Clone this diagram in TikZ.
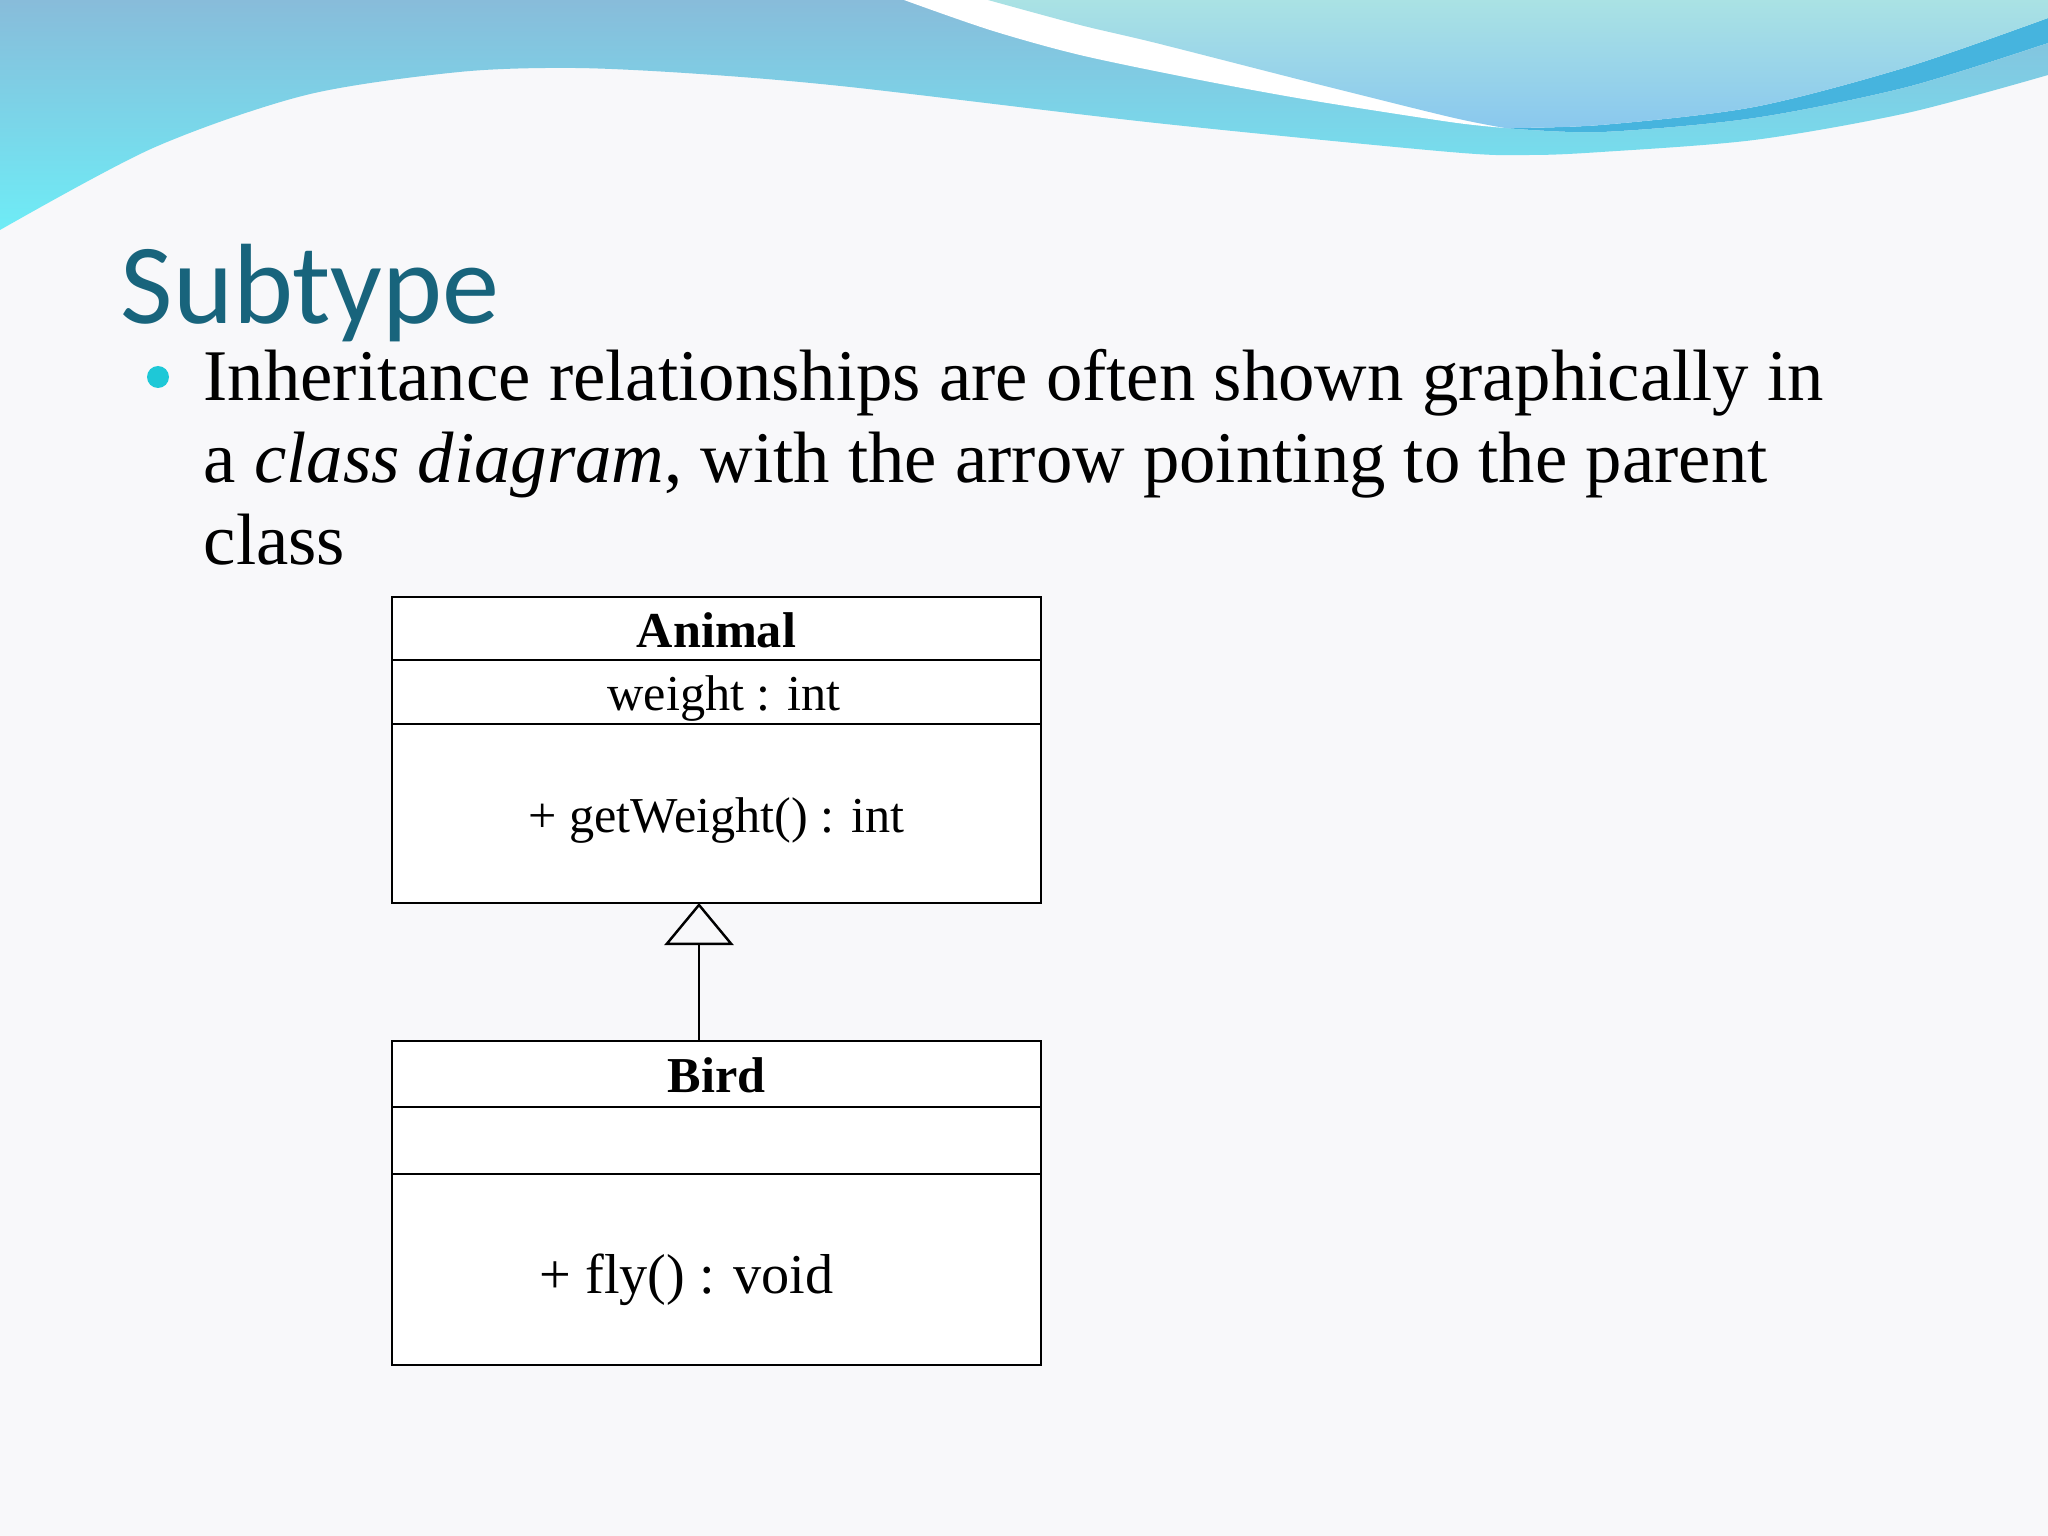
\documentclass[tikz,border=0pt]{standalone}
\usepackage{fontspec}
\setmainfont{Liberation Serif}
\newfontfamily\headfont{Carlito}
\usetikzlibrary{positioning,arrows.meta}
\definecolor{slidebg}{RGB}{248,248,250}
\definecolor{titleteal}{RGB}{24,100,124}
\definecolor{bulletcyan}{RGB}{30,200,215}
\definecolor{bandtop}{RGB}{136,188,218}
\definecolor{bandbottom}{RGB}{110,236,246}
\definecolor{aquatop}{RGB}{170,226,228}
\definecolor{aquabottom}{RGB}{138,200,238}
\definecolor{ribbonblue}{RGB}{70,180,222}
\tikzset{
  umlpart/.style={draw, fill=white, line width=0.7pt, minimum width=6.49cm,
    inner sep=0pt, outer sep=0pt, text height=10.8pt, text depth=0pt,
    font=\fontsize{14.3}{17}\selectfont},
  umlname/.style={umlpart, font=\fontsize{14.3}{17}\selectfont\bfseries},
  bodyline/.style={anchor=base west, inner sep=0pt,
    font=\fontsize{20.7}{24}\selectfont}
}
\begin{document}
\begin{tikzpicture}
\useasboundingbox (0,0) rectangle (20.48,-15.36);
\fill[slidebg] (0,0) rectangle (20.48,-15.36);
\shade[top color=bandtop, bottom color=bandbottom] (0,0) -- (20.48,0) -- plot[smooth] coordinates {(20.48,-0.75) (19.07,-1.13) (17.54,-1.40) (16.01,-1.52) (15.30,-1.55) (14.50,-1.52) (11.56,-1.23) (8.50,-0.87) (7.00,-0.74) (5.75,-0.68) (4.59,-0.72) (3.06,-0.95) (1.53,-1.48) (0,-2.30)} -- cycle;
\fill[white] plot[smooth] coordinates {(9.04,0) (9.90,-0.30) (10.80,-0.55) (12.00,-0.80) (13.09,-1.00) (14.50,-1.22) (15.05,-1.28)} -- plot[smooth] coordinates {(15.05,-1.28) (16.01,-1.32) (17.54,-1.18) (19.07,-0.87) (20.48,-0.43)} -- (20.48,0) -- cycle;
\fill[ribbonblue] plot[smooth] coordinates {(15.05,-1.28) (16.01,-1.32) (17.54,-1.18) (19.07,-0.87) (20.48,-0.43)} -- plot[smooth] coordinates {(20.48,-0.18) (19.07,-0.67) (17.54,-1.07) (16.01,-1.25) (15.05,-1.28)} -- cycle;
\shade[top color=aquatop, bottom color=aquabottom] plot[smooth] coordinates {(9.88,0) (10.80,-0.25) (11.56,-0.43) (13.09,-0.82) (14.50,-1.17) (15.05,-1.28)} -- plot[smooth] coordinates {(15.05,-1.28) (16.01,-1.25) (17.54,-1.07) (19.07,-0.67) (20.48,-0.18)} -- (20.48,0) -- cycle;

\node[anchor=base west, inner sep=0pt, text=titleteal, font=\headfont\fontsize{32.5}{39}\selectfont] (title) at (1.20,-3.24) {Subtype};
\node[circle, fill=bulletcyan, inner sep=0pt, minimum size=0.22cm] (bullet) at (1.58,-3.77) {};
\node[bodyline] (line1) at (2.03,-4.01) {Inheritance relationships are often shown graphically in};
\node[bodyline] (line2) at (2.03,-4.83) {a \textit{class diagram}, with the arrow pointing to the parent};
\node[bodyline] (line3) at (2.03,-5.65) {class};

\node[umlname, minimum height=0.63cm] (animalname) at (7.165,-6.285) {Animal};
\node[umlpart, minimum height=0.64cm, below=0pt of animalname] (animalattr) {\hspace*{4.4pt}weight : int};
\node[umlpart, minimum height=1.79cm, below=0pt of animalattr] (animalops) {+ getWeight() : int};

\node[umlname, minimum height=0.66cm] (birdname) at (7.165,-10.74) {Bird};
\node[umlpart, minimum height=0.67cm, below=0pt of birdname] (birdattr) {};
\node[umlpart, minimum height=1.91cm, below=0pt of birdattr, text height=13.4pt, font=\fontsize{16}{19}\selectfont] (birdops) {\hspace*{-17pt}+ fly() : void};

\draw[line width=0.7pt, -{Triangle[open, length=0.42cm, width=0.69cm]}] ([xshift=-1.75mm]birdname.north) -- ([xshift=-1.75mm]animalops.south);
\end{tikzpicture}
\end{document}
